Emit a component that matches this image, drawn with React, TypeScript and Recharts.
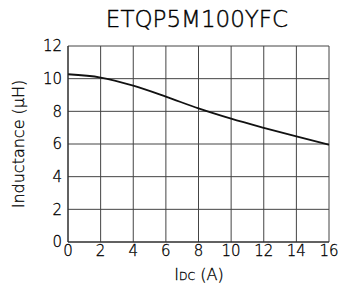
import { LineChart, Line, XAxis, YAxis, CartesianGrid } from "recharts";

const FONT = "'DejaVu Sans', sans-serif";
const INK = "#000";
const WEIGHT = 200;

const currentA = [0, 2, 4, 6, 8, 10, 12, 14, 16];
const inductanceUH = [10.27, 10.07, 9.57, 8.9, 8.18, 7.55, 6.99, 6.46, 5.95];
const xTicks = [0, 2, 4, 6, 8, 10, 12, 14, 16];
const yTicks = [0, 2, 4, 6, 8, 10, 12];

const data = currentA.map((x, i) => ({ x, l: inductanceUH[i] }));

const tickStyle = { fontSize: 15, fill: INK, fontFamily: FONT, fontWeight: WEIGHT, stroke: INK, strokeWidth: 0.3 };

export default function App() {
  return (
    <div style={{ position: "absolute", left: 0, top: 0, width: 340, height: 285, background: "#fff" }}>
      <div
        style={{
          position: "absolute",
          left: 0,
          top: 6,
          width: 394,
          textAlign: "center",
          fontFamily: FONT,
          fontWeight: WEIGHT,
          fontSize: 23,
          color: INK,
          lineHeight: "26px",
          WebkitTextStroke: "0.4px #000",
        }}
      >
        ETQP5M100YFC
      </div>
      <LineChart width={340} height={285} data={data} margin={{ top: 46, right: 11, left: 0, bottom: 0 }}>
        <CartesianGrid stroke="#444" strokeWidth={1} />
        <XAxis
          dataKey="x"
          type="number"
          domain={[0, 16]}
          ticks={xTicks}
          height={43}
          tickSize={0}
          tickMargin={3}
          tick={tickStyle}
          stroke="#222"
          label={{
            content: () => (
              <text
                x={199}
                y={280}
                textAnchor="middle"
                fontFamily={FONT}
                fontWeight={WEIGHT}
                fontSize={16}
                fill={INK}
                stroke={INK}
                strokeWidth={0.3}
              >
                I<tspan fontSize={11}>DC</tspan> (A)
              </text>
            ),
          }}
        />
        <YAxis
          type="number"
          domain={[0, 12]}
          ticks={yTicks}
          width={68}
          tickSize={0}
          tickMargin={6}
          tick={tickStyle}
          stroke="#222"
          label={{
            content: () => (
              <text
                x={24}
                y={144}
                textAnchor="middle"
                transform="rotate(-90 24 144)"
                fontFamily={FONT}
                fontWeight={WEIGHT}
                fontSize={16}
                fill={INK}
                stroke={INK}
                strokeWidth={0.3}
              >
                Inductance (μH)
              </text>
            ),
          }}
        />
        <Line
          type="monotone"
          dataKey="l"
          stroke="#111"
          strokeWidth={1.8}
          dot={false}
          isAnimationActive={false}
        />
      </LineChart>
    </div>
  );
}
